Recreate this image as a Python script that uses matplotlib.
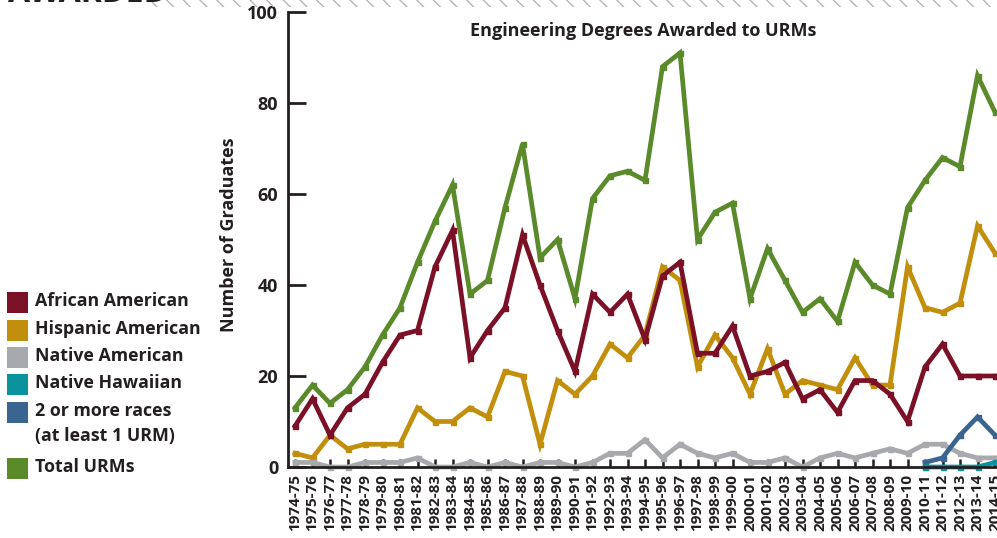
import matplotlib
matplotlib.use("Agg")
import matplotlib.pyplot as plt
from matplotlib.patches import Rectangle

plt.rcParams['font.family'] = ['Open Sans', 'DejaVu Sans']

# school years
years = ["1974-75", "1975-76", "1976-77", "1977-78", "1978-79", "1979-80",
         "1980-81", "1981-82", "1982-83", "1983-84", "1984-85", "1985-86",
         "1986-87", "1987-88", "1988-89", "1989-90", "1990-91", "1991-92",
         "1992-93", "1993-94", "1994-95", "1995-96", "1996-97", "1997-98",
         "1998-99", "1999-00", "2000-01", "2001-02", "2002-03", "2003-04",
         "2004-05", "2005-06", "2006-07", "2007-08", "2008-09", "2009-10",
         "2010-11", "2011-12", "2012-13", "2013-14", "2014-15"]

total = [13, 18, 14, 17, 22, 29, 35, 45, 54, 62, 38, 41, 57, 71, 46, 50, 37,
         59, 64, 65, 63, 88, 91, 50, 56, 58, 37, 48, 41, 34, 37, 32, 45, 40,
         38, 57, 63, 68, 66, 86, 78]
african = [9, 15, 7, 13, 16, 23, 29, 30, 44, 52, 24, 30, 35, 51, 40, 30, 21,
           38, 34, 38, 28, 42, 45, 25, 25, 31, 20, 21, 23, 15, 17, 12, 19, 19,
           16, 10, 22, 27, 20, 20, 20]
hispanic = [3, 2, 7, 4, 5, 5, 5, 13, 10, 10, 13, 11, 21, 20, 5, 19, 16, 20,
            27, 24, 29, 44, 41, 22, 29, 24, 16, 26, 16, 19, 18, 17, 24, 18,
            18, 44, 35, 34, 36, 53, 47]
native_am = [1, 1, 0, 0, 1, 1, 1, 2, 0, 0, 1, 0, 1, 0, 1, 1, 0, 1, 3, 3, 6,
             2, 5, 3, 2, 3, 1, 1, 2, 0, 2, 3, 2, 3, 4, 3, 5, 5, 3, 2, 2]
# the two newer categories only start in 2010-11
new_years = years[36:]
two_or_more = [1, 2, 7, 11, 7]
hawaiian = [0, 0, 0, 0, 1]

c_total = "#5a8a2a"
c_afr = "#7a1126"
c_his = "#c28f0c"
c_nat = "#a8a9ad"
c_haw = "#0a939c"
c_two = "#3a6591"
dark = "#231f20"

fig = plt.figure(figsize=(9.97, 5.38), dpi=100)
ax = fig.add_axes([288 / 997, 1 - 467 / 538, (1010 - 288) / 997, 455 / 538])

xs = list(range(len(years)))
xs_new = [years.index(y) for y in new_years]
kw = dict(lw=3.4, marker="s", ms=3.6, solid_joinstyle="miter", clip_on=False)
ax.plot(xs, total, color=c_total, **kw)
ax.plot(xs, hispanic, color=c_his, **kw)
ax.plot(xs, african, color=c_afr, **kw)
ax.plot(xs, native_am, color=c_nat, **kw)
ax.plot(xs_new, two_or_more, color=c_two, **kw)
ax.plot(xs_new, hawaiian, color=c_haw, **kw)

ax.set_ylim(0, 100)
ax.set_xlim(-0.4, (1010 - 295) / 17.5)
ax.set_yticks([0, 20, 40, 60, 80, 100])
ax.set_xticks(xs)
ax.set_xticklabels(years, rotation=90, fontsize=11, color=dark, fontweight="bold")
for s in ["top", "right"]:
    ax.spines[s].set_visible(False)
for s in ["left", "bottom"]:
    ax.spines[s].set_linewidth(2)
    ax.spines[s].set_color(dark)
ax.tick_params(axis="y", direction="in", length=13, width=2, color=dark,
               pad=7, labelsize=13, labelcolor=dark)
ax.tick_params(axis="x", direction="in", length=6, width=1.8, color=dark, pad=5)
for t in ax.get_yticklabels():
    t.set_fontweight("bold")

fig.text(643 / 997, 1 - 31 / 538, "Engineering Degrees Awarded to URMs",
         ha="center", va="center", fontsize=13, fontweight="bold", color=dark)
fig.text(229 / 997, 1 - 235 / 538, "Number of Graduates", rotation=90,
         ha="center", va="center", fontsize=13, fontweight="bold", color=dark)

# legend drawn at the left
leg_names = ["African American", "Hispanic American", "Native American",
             "Native Hawaiian", "2 or more races\n(at least 1 URM)", "Total URMs"]
leg_colors = [c_afr, c_his, c_nat, c_haw, c_two, c_total]
leg_y = [303, 331, 358, 385, 413, 469]
for name, col, yp in zip(leg_names, leg_colors, leg_y):
    fig.add_artist(Rectangle((7 / 997, 1 - (yp + 10) / 538), 21 / 997, 21 / 538,
                             transform=fig.transFigure, color=col, lw=0))
    fig.text(35 / 997, 1 - (yp - 11) / 538, name, ha="left", va="top",
             fontsize=12.8, fontweight="bold", color=dark, linespacing=1.5)

# heading remnant and dotted strip at the very top
fig.text(8 / 997, 1 - 2 / 538, "AWARDED", ha="left", va="baseline",
         fontsize=23, fontweight="bold", color=dark)
fig.add_artist(Rectangle((150 / 997, 1 - 7 / 538), 847 / 997, 7 / 538,
                         transform=fig.transFigure, fill=False, lw=0,
                         hatch="\\\\", edgecolor="#b5b5b5"))

fig.savefig("out.png", dpi=100)
